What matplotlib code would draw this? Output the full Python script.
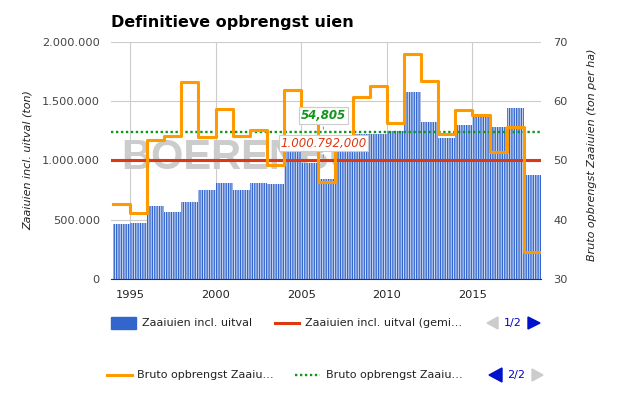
import matplotlib
matplotlib.use("Agg")
import matplotlib.pyplot as plt
from matplotlib.patches import Polygon, Rectangle
from matplotlib.lines import Line2D

# data
jaren = list(range(1994, 2019))
zaaiuien_ton = [460000, 470000, 617000, 566000, 651000, 747000, 811000, 755000,
                811000, 803000, 1082000, 980000, 840000, 1070000, 1225000, 1225000,
                1250000, 1577000, 1321000, 1194000, 1296000, 1369000, 1279000,
                1442000, 876000]
opbrengst_ha = [42.7, 41.1, 53.4, 54.1, 63.2, 53.9, 58.7, 54.2, 55.1, 49.3,
                61.9, 58.8, 46.4, 53.1, 60.8, 62.6, 56.4, 67.9, 63.4, 54.4,
                58.5, 57.6, 51.4, 55.7, 34.6]
gem_ton = 1000792
gem_ha = 54.805

x_ticks = [1995, 2000, 2005, 2010, 2015]
y_links = [0, 500000, 1000000, 1500000, 2000000]
y_links_labels = ["0", "500.000", "1.000.000", "1.500.000", "2.000.000"]
y_rechts = [30, 40, 50, 60, 70]

plt.rcParams["font.family"] = "DejaVu Sans"
plt.rcParams["hatch.linewidth"] = 0.8

W, H = 621, 393
fig = plt.figure(figsize=(W / 100, H / 100), dpi=100)
ax = fig.add_axes([111 / W, 114 / H, 430 / W, 237 / H])

ax.bar(jaren, zaaiuien_ton, width=1, align="edge", color="#3366cc",
       edgecolor="#c9d7f3", linewidth=0, hatch="|" * 7, zorder=2)
ax.axhline(gem_ton, color="#dc3912", lw=2.2, zorder=3)

ax.set_xlim(1993.9, 2019)
ax.set_ylim(0, 2000000)
ax.set_xticks(x_ticks)
ax.set_yticks(y_links)
ax.set_yticklabels(y_links_labels)
ax.grid(True, color="#cccccc", lw=0.8)
ax.set_axisbelow(True)
ax.tick_params(length=0, labelsize=8.2, labelcolor="#444444")
ax.tick_params(axis="x", pad=8, labelcolor="#222222")
ax.tick_params(axis="y", pad=8)
for s in ["top", "left", "right"]:
    ax.spines[s].set_visible(False)
ax.spines["bottom"].set_color("#333333")

# watermark behind the bars
ax.text(10 / 430, 0.51, "BOERENBUSINESS", transform=ax.transAxes,
        family="Liberation Sans", fontweight="bold", fontsize=30,
        color="#cccccc", va="center", ha="left", zorder=1)

ax2 = ax.twinx()
ax2.set_ylim(30, 70)
ax2.set_yticks(y_rechts)
ax2.tick_params(length=0, labelsize=8.2, labelcolor="#444444", pad=9)
for s in ax2.spines.values():
    s.set_visible(False)

ax2.step(jaren + [jaren[-1] + 1], opbrengst_ha + [opbrengst_ha[-1]],
         where="post", color="#ff9900", lw=2.2, zorder=4)
ax2.axhline(gem_ha, color="#109618", lw=1.7, linestyle=(0, (1, 1.1)), zorder=3)

ax2.annotate("54,805", xy=(2006.3, gem_ha), xytext=(0, 12),
             textcoords="offset points", ha="center", va="center",
             color="#109618", fontsize=8.5, style="italic", fontweight="bold",
             bbox=dict(boxstyle="square,pad=0.15", fc="white", ec="#cccccc", lw=0.8),
             arrowprops=dict(arrowstyle="-", color="#999999", lw=0.8), zorder=10)
ax2.annotate("1.000.792,000", xy=(2006.3, gem_ton), xycoords=ax.transData,
             xytext=(0, 12.5), textcoords="offset points", ha="center", va="center",
             color="#dc3912", fontsize=8.5, style="italic",
             bbox=dict(boxstyle="square,pad=0.15", fc="white", ec="#cccccc", lw=0.8),
             arrowprops=dict(arrowstyle="-", color="#999999", lw=0.8), zorder=10)

# titles and axis labels
fig.text(111 / W, 1 - 22 / H, "Definitieve opbrengst uien", fontsize=11.5,
         fontweight="bold", color="#000000", ha="left", va="center")
fig.text(28 / W, 1 - 160 / H, "Zaaiuien incl. uitval (ton)", rotation=90,
         style="italic", fontsize=8, color="#222222", ha="center", va="center")
fig.text(592 / W, 1 - 155 / H, "Bruto opbrengst Zaaiuien (ton per ha)", rotation=90,
         style="italic", fontsize=8, color="#222222", ha="center", va="center")

# legend (two paged rows, as in the reference)
lg = fig.add_axes([0, 0, 1, 1])
lg.set_xlim(0, W)
lg.set_ylim(H, 0)
lg.axis("off")
lg.patch.set_alpha(0)

r1, r2 = 323, 375
lg.add_patch(Rectangle((111, r1 - 6), 25, 12, color="#3366cc"))
lg.text(142, r1, "Zaaiuien incl. uitval", fontsize=8, color="#222222", va="center")
lg.add_line(Line2D([275, 299], [r1, r1], color="#dc3912", lw=2.2))
lg.text(305, r1, "Zaaiuien incl. uitval (gemi…", fontsize=8, color="#222222", va="center")
lg.add_patch(Polygon([(487, r1), (498, r1 - 6), (498, r1 + 6)], color="#cccccc"))
lg.text(504, r1, "1/2", fontsize=8, color="#0000cc", va="center")
lg.add_patch(Polygon([(528, r1 - 6), (528, r1 + 6), (540, r1)], color="#0011cc"))

lg.add_line(Line2D([107, 132], [r2, r2], color="#ff9900", lw=2.2))
lg.text(137, r2, "Bruto opbrengst Zaaiu…", fontsize=8, color="#222222", va="center")
lg.add_line(Line2D([295, 320], [r2, r2], color="#109618", lw=1.7, linestyle=(0, (1, 1.1))))
lg.text(326, r2, "Bruto opbrengst Zaaiu…", fontsize=8, color="#222222", va="center")
lg.add_patch(Polygon([(489, r2), (502, r2 - 7), (502, r2 + 7)], color="#0011cc"))
lg.text(507, r2, "2/2", fontsize=8, color="#0000cc", va="center")
lg.add_patch(Polygon([(532, r2 - 6), (532, r2 + 6), (543, r2)], color="#cccccc"))

fig.savefig("out.png", dpi=100)
